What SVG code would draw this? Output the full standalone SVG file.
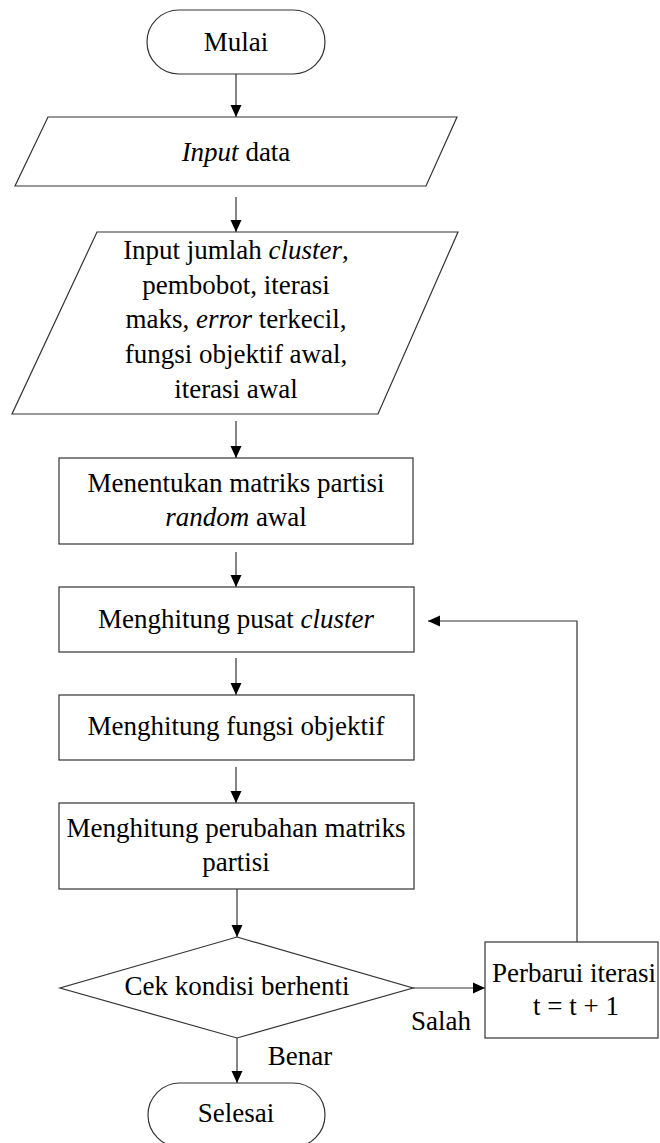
<svg xmlns="http://www.w3.org/2000/svg" width="660" height="1143" viewBox="0 0 660 1143">
<defs>
<marker id="ah" viewBox="0 0 12 12" refX="12" refY="6" markerWidth="12" markerHeight="12" markerUnits="userSpaceOnUse" orient="auto">
<path d="M0,0.5 L12,6 L0,11.5 Z" fill="#000"/>
</marker>
</defs>
<rect width="660" height="1143" fill="#fff"/>
<g id="connectors" fill="none" stroke="#333" stroke-width="1.2" marker-end="url(#ah)">
<line x1="236" y1="74" x2="236" y2="117"/>
<line x1="236" y1="197" x2="236" y2="232"/>
<line x1="236" y1="421" x2="236" y2="458"/>
<line x1="236" y1="552" x2="236" y2="587"/>
<line x1="236" y1="658" x2="236" y2="695"/>
<line x1="236" y1="767" x2="236" y2="803"/>
<line x1="237" y1="889" x2="237" y2="937"/>
<line x1="237" y1="1038" x2="237" y2="1083"/>
<line x1="413" y1="988" x2="485" y2="988"/>
<polyline points="577,942 577,621 428,621"/>
</g>
<g id="shapes" fill="#fff" stroke="#333" stroke-width="1.2">
<rect id="mulai-shape" x="147" y="10" width="178" height="64" rx="32" ry="32"/>
<polygon id="input-data-shape" points="48,117 457,117 426,186 15,186"/>
<polygon id="input-param-shape" points="97,232 458,232 378,414 12,414"/>
<rect id="matriks-awal-shape" x="59" y="458" width="354" height="86"/>
<rect id="pusat-cluster-shape" x="59" y="587" width="355" height="65"/>
<rect id="fungsi-objektif-shape" x="59" y="695" width="355" height="65"/>
<rect id="perubahan-matriks-shape" x="59" y="803" width="355" height="86"/>
<polygon id="cek-kondisi-shape" points="237,937 413,988 237,1038 60,988"/>
<rect id="perbarui-shape" x="485" y="942" width="173" height="96"/>
<rect id="selesai-shape" x="148" y="1083" width="177" height="64" rx="32" ry="32"/>
</g>
<text x="441" y="1030" font-family="Times New Roman" font-size="27" text-anchor="middle">Salah</text>
<text x="300" y="1065" font-family="Times New Roman" font-size="27" text-anchor="middle">Benar</text>
<text id="mulai" x="236" y="51" font-family="Times New Roman" font-size="27" text-anchor="middle">Mulai</text>
<text id="input-data" x="236" y="161" font-family="Times New Roman" font-size="27" text-anchor="middle"><tspan font-style="italic">Input</tspan> data</text>
<text x="236" y="259" font-family="Times New Roman" font-size="27" text-anchor="middle">Input jumlah <tspan font-style="italic">cluster</tspan>,</text>
<text x="236" y="294" font-family="Times New Roman" font-size="27" text-anchor="middle">pembobot, iterasi</text>
<text x="236" y="328" font-family="Times New Roman" font-size="27" text-anchor="middle">maks, <tspan font-style="italic">error</tspan> terkecil,</text>
<text x="236" y="363" font-family="Times New Roman" font-size="27" text-anchor="middle">fungsi objektif awal,</text>
<text x="236" y="398" font-family="Times New Roman" font-size="27" text-anchor="middle">iterasi awal</text>
<text x="236" y="492" font-family="Times New Roman" font-size="27" text-anchor="middle">Menentukan matriks partisi</text>
<text x="236" y="526" font-family="Times New Roman" font-size="27" text-anchor="middle"><tspan font-style="italic">random</tspan> awal</text>
<text id="pusat-cluster" x="236" y="628" font-family="Times New Roman" font-size="27" text-anchor="middle">Menghitung pusat <tspan font-style="italic">cluster</tspan></text>
<text id="fungsi-objektif" x="236" y="735" font-family="Times New Roman" font-size="27" text-anchor="middle">Menghitung fungsi objektif</text>
<text x="236" y="837" font-family="Times New Roman" font-size="27" text-anchor="middle">Menghitung perubahan matriks</text>
<text x="236" y="871" font-family="Times New Roman" font-size="27" text-anchor="middle">partisi</text>
<text id="cek-kondisi" x="237" y="995" font-family="Times New Roman" font-size="27" text-anchor="middle">Cek kondisi berhenti</text>
<text x="574" y="982" font-family="Times New Roman" font-size="27" text-anchor="middle">Perbarui iterasi</text>
<text x="576" y="1015" font-family="Times New Roman" font-size="27" text-anchor="middle">t = t + 1</text>
<text id="selesai" x="236" y="1122" font-family="Times New Roman" font-size="27" text-anchor="middle">Selesai</text>
</svg>
